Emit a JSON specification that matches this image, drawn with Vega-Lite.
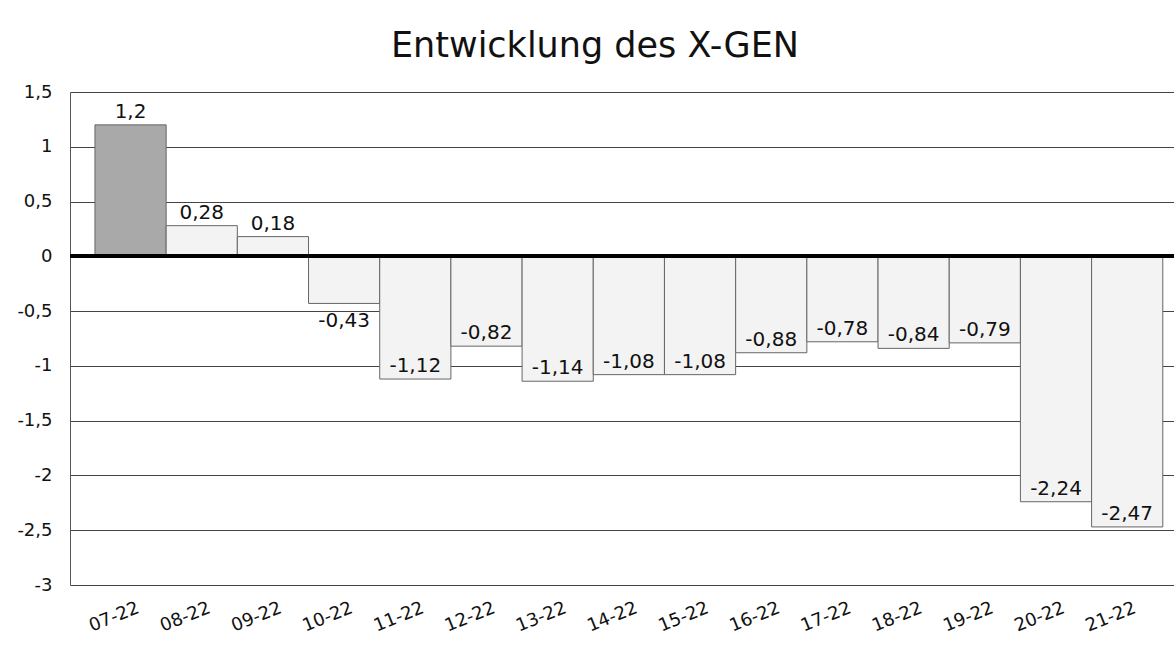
{
  "$schema": "https://vega.github.io/schema/vega-lite/v6.json",
  "autosize": {"type": "none"},
  "padding": {"left": 70, "top": 92, "right": 0, "bottom": 70},
  "width": 1104,
  "height": 493,
  "background": "white",
  "title": {
    "text": "Entwicklung des X-GEN",
    "font": "DejaVu Sans",
    "fontSize": 35,
    "fontWeight": "normal",
    "color": "#111111",
    "anchor": "middle",
    "frame": "group",
    "baseline": "alphabetic",
    "offset": 35,
    "dy": 44,
    "dx": -27
  },
  "data": {
    "values": [
      {"month": "07-22", "value": 1.2},
      {"month": "08-22", "value": 0.28},
      {"month": "09-22", "value": 0.18},
      {"month": "10-22", "value": -0.43},
      {"month": "11-22", "value": -1.12},
      {"month": "12-22", "value": -0.82},
      {"month": "13-22", "value": -1.14},
      {"month": "14-22", "value": -1.08},
      {"month": "15-22", "value": -1.08},
      {"month": "16-22", "value": -0.88},
      {"month": "17-22", "value": -0.78},
      {"month": "18-22", "value": -0.84},
      {"month": "19-22", "value": -0.79},
      {"month": "20-22", "value": -2.24},
      {"month": "21-22", "value": -2.47}
    ]
  },
  "encoding": {
    "x": {
      "field": "month",
      "type": "nominal",
      "sort": null,
      "title": null,
      "scale": {"paddingInner": 0, "paddingOuter": 0.254, "align": 0.69},
      "axis": {
        "labelAngle": -22,
        "labelAlign": "right",
        "labelBaseline": "middle",
        "labelOffset": 8,
        "labelPadding": 22,
        "ticks": false,
        "domain": false,
        "grid": false,
        "labelFont": "DejaVu Sans",
        "labelFontSize": 18,
        "labelColor": "#111111"
      }
    },
    "y": {
      "field": "value",
      "type": "quantitative",
      "title": null,
      "scale": {"domain": [-3, 1.5], "nice": false, "zero": false},
      "axis": {
        "values": [-3, -2.5, -2, -1.5, -1, -0.5, 0, 0.5, 1, 1.5],
        "format": ".1~f",
        "ticks": false,
        "labelPadding": 18,
        "labelFont": "DejaVu Sans",
        "labelFontSize": 18,
        "labelColor": "#111111",
        "domain": true,
        "domainColor": "#555555",
        "grid": true,
        "gridColor": "#444444",
        "gridWidth": 1
      }
    }
  },
  "layer": [
    {
      "mark": {"type": "bar", "stroke": "#666666", "strokeWidth": 1},
      "encoding": {
        "fill": {
          "condition": {"test": "datum.month === '07-22'", "value": "#a9a9a9"},
          "value": "#f3f3f3"
        }
      }
    },
    {
      "mark": {"type": "rule", "color": "#000000", "strokeWidth": 3},
      "encoding": {"y": {"datum": 0}, "x": {"value": 0}, "x2": {"value": 1104}}
    },
    {
      "transform": [{"filter": "datum.month !== '10-22'"}],
      "mark": {"type": "text", "baseline": "bottom", "dy": -3, "font": "DejaVu Sans", "fontSize": 20, "color": "#111111"},
      "encoding": {
        "text": {"field": "value", "type": "quantitative", "format": ".2~f"}
      }
    },
    {
      "transform": [{"filter": "datum.month === '10-22'"}],
      "mark": {"type": "text", "baseline": "top", "dy": 8, "font": "DejaVu Sans", "fontSize": 20, "color": "#111111"},
      "encoding": {
        "text": {"field": "value", "type": "quantitative", "format": ".2~f"}
      }
    }
  ],
  "config": {
    "view": {"stroke": null},
    "locale": {
      "number": {"decimal": ",", "thousands": ".", "grouping": [3], "currency": ["", " €"], "minus": "-"}
    }
  }
}
